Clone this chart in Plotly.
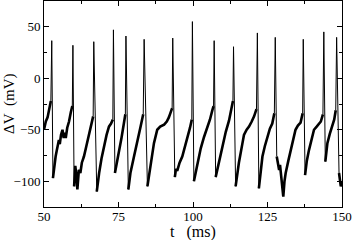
import plotly.graph_objects as go

# Membrane potential trace (ramp / trough points)
t_ms = [50.0, 50.6, 51.2, 51.8, 52.3,
        53.0, 53.4, 53.9, 54.3, 54.7, 55.0, 55.3, 55.7, 56.2, 56.6, 57.0, 57.3, 57.8, 58.4, 59.0, 59.5,
        60.1, 60.5, 60.9, 61.2, 61.7, 62.2, 62.7, 63.4, 64.2, 65.1, 65.9, 66.5,
        67.7, 68.1, 68.5, 69.3, 70.1, 71.0, 71.8, 72.5, 73.1,
        73.8, 74.5, 75.2, 76.0, 76.8, 77.3,
        78.3, 79.0, 80.2, 81.3, 82.4, 83.3,
        84.7, 85.5, 86.2, 86.9, 88.0, 89.0, 90.3, 91.2, 91.9, 92.6, 93.0,
        93.9, 94.3, 94.7, 95.5, 96.4, 97.2, 98.1, 99.0, 99.6,
        100.3, 101.2, 102.6, 103.7, 104.8, 105.7, 106.5, 106.9,
        107.6, 108.6, 109.8, 111.0, 112.1, 113.0, 113.4,
        114.3, 115.4, 116.6, 117.1, 118.0, 118.8, 119.7, 120.5, 121.3,
        122.1, 122.7, 123.3, 124.1, 124.9, 125.8, 126.6, 127.3,
        128.1, 128.6, 128.9, 129.2, 129.6, 130.0, 130.3, 130.7, 131.1, 132.0, 132.8, 133.6, 134.4, 135.2, 136.1, 136.8,
        137.6, 138.2, 138.9, 139.8, 140.6, 141.5, 142.3, 142.9, 143.6,
        144.4, 145.1, 145.9, 146.7, 147.4, 147.9,
        149.0, 149.6, 150.0]
v_mv = [-50, -42, -38, -30, -22,
        -97, -85, -76, -70, -63, -60, -64, -55, -50, -58, -53, -58, -48, -42, -33, -27,
        -105, -85, -95, -108, -89, -92, -82, -76, -66, -54, -45, -37,
        -110, -98, -92, -78, -66, -55, -47, -44, -40,
        -92, -82, -73, -58, -44, -35,
        -108, -92, -76, -60, -47, -35,
        -105, -88, -74, -63, -50, -47, -45, -42, -38, -33, -29,
        -96, -88, -90, -82, -76, -68, -57, -48, -40,
        -100, -86, -68, -57, -48, -40, -31, -27,
        -96, -82, -66, -52, -41, -30, -22,
        -105, -82, -63, -55, -50, -47, -42, -37, -30,
        -107, -88, -76, -66, -57, -49, -44, -34,
        -76, -85, -89, -84, -98, -108, -115, -100, -92, -80, -70, -58, -50, -46, -43, -34,
        -94, -80, -70, -58, -50, -47, -44, -42, -35,
        -81, -63, -54, -47, -40, -31,
        -92, -105, -100]

# Spike peaks
spike_t = [52.6, 59.7, 66.7, 73.3, 77.5, 83.6, 93.2, 99.8, 107.1, 113.6, 121.6, 127.6, 137.0, 143.9, 148.2]
spike_v = [36.5, 32.0, 35.5, 47.0, 41.0, 37.8, 39.0, 55.0, 36.5, 30.6, 44.0, 39.7, 37.8, 45.0, 39.7]

x_ticks = [50, 75, 100, 125, 150]
y_ticks = [-100, -50, 0, 50]
x_title = "t\u00a0\u00a0\u00a0(ms)"
y_title = "\u0394V\u00a0\u00a0(mV)"

# Build thick (noisy ramps) and thin (spikes) traces from the data
ramp_x, ramp_y = [], []
spk_x, spk_y = [], []
si = 0
for i, (t, v) in enumerate(zip(t_ms, v_mv)):
    ramp_x.append(t)
    ramp_y.append(v)
    if si < len(spike_t) and i + 1 < len(t_ms) and t < spike_t[si] < t_ms[i + 1]:
        ramp_x.append(None)
        ramp_y.append(None)
        spk_x += [t, spike_t[si], t_ms[i + 1], None]
        spk_y += [v, spike_v[si], v_mv[i + 1], None]
        si += 1

fig = go.Figure()
fig.add_trace(go.Scatter(x=ramp_x, y=ramp_y, mode="lines",
                         line=dict(color="black", width=2.6), connectgaps=False, hoverinfo="skip"))
fig.add_trace(go.Scatter(x=spk_x, y=spk_y, mode="lines",
                         line=dict(color="black", width=1.0), connectgaps=False, hoverinfo="skip"))

axis_common = dict(showline=True, linecolor="black", linewidth=1, mirror="ticks",
                   ticks="inside", ticklen=5, tickwidth=1, tickcolor="black",
                   showgrid=False, zeroline=False,
                   tickfont=dict(family="Liberation Serif", size=13, color="black"))

fig.update_xaxes(range=[50, 150], tickmode="array", tickvals=x_ticks, ticklabelstandoff=-3,
                 minor=dict(ticks="inside", ticklen=3, tickcolor="black", dtick=12.5, tick0=50, showgrid=False),
                 **axis_common)
fig.update_yaxes(range=[-125, 75], tickmode="array", tickvals=y_ticks,
                 minor=dict(ticks="inside", ticklen=3, tickcolor="black", dtick=25, tick0=-125, showgrid=False),
                 **axis_common)

fig.add_annotation(text=x_title, xref="paper", yref="paper", x=0.5, y=0,
                   xanchor="center", yanchor="top", yshift=-14, showarrow=False,
                   font=dict(family="Liberation Serif", size=16, color="black"))
fig.add_annotation(text=y_title, xref="paper", yref="paper", x=0, y=0.5,
                   xanchor="center", yanchor="middle", xshift=-35, textangle=-90, showarrow=False,
                   font=dict(family="Liberation Serif", size=15, color="black"))

fig.update_layout(width=353, height=240, margin=dict(l=44, r=11, t=1, b=33, autoexpand=False),
                  paper_bgcolor="white", plot_bgcolor="white", showlegend=False)

fig.write_html("out.html", config={"displayModeBar": False},
               post_script="document.body.style.margin='0';document.body.style.overflow='hidden';")
